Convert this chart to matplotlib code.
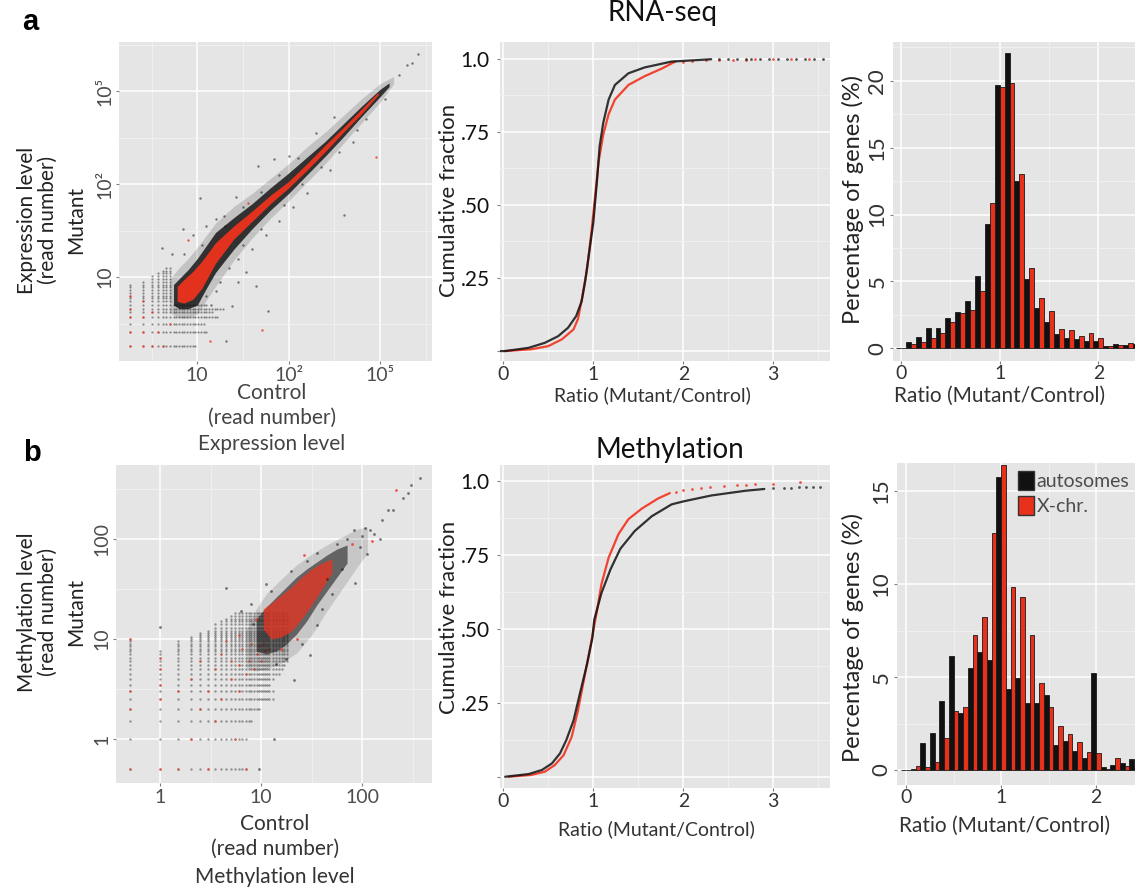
import matplotlib.pyplot as plt
import numpy as np
from matplotlib.patches import Patch
from matplotlib.ticker import FixedLocator, NullFormatter

plt.rcParams['font.family'] = ['Lato', 'DejaVu Sans']

W, H = 1135, 888
BLACK = '#111111'
RED = '#F2311C'
BAR_RED = '#E8301A'

# ---------------- data ----------------
# (a) RNA-seq scatter, log10 read numbers
LAT_A = [0.26, 0.41, 0.50, 0.57, 0.62, 0.66, 0.70, 0.74, 0.77, 0.80, 0.83, 0.86,
         0.89, 0.92, 0.95, 0.98, 1.01, 1.04, 1.07, 1.10, 1.13, 1.16, 1.19, 1.22, 1.25, 1.28]
ROWS_A_Y = [0.26, 0.41, 0.50, 0.57, 0.62, 0.66, 0.70]
ROWS_A_XMAX = [0.99, 1.10, 1.08, 1.22, 1.16, 1.28, 1.10]
COLS_A_X = [0.26, 0.41, 0.50, 0.57, 0.62, 0.66, 0.70]
COLS_A_YMAX = [0.93, 0.97, 1.02, 1.05, 1.08, 1.10, 1.10]
RED_LAT_A = [(0.26, 0.26), (0.41, 0.26), (0.50, 0.26), (0.26, 0.41), (0.41, 0.41),
             (0.26, 0.57), (0.41, 0.57), (0.26, 0.66), (0.57, 0.41), (0.62, 0.26),
             (0.50, 0.62), (0.70, 0.50), (0.41, 0.74), (0.26, 0.80)]

HALO_A_X = [0.70, 0.80, 0.90, 1.00, 1.20, 1.40, 1.60, 1.80, 2.00, 2.20, 2.40, 2.60, 2.80, 3.00, 3.15]
HALO_A_LO = [0.62, 0.56, 0.56, 0.60, 0.90, 1.18, 1.42, 1.63, 1.82, 2.02, 2.22, 2.44, 2.66, 2.88, 3.08]
HALO_A_HI = [0.98, 1.10, 1.20, 1.32, 1.58, 1.76, 1.90, 2.06, 2.22, 2.40, 2.56, 2.74, 2.92, 3.08, 3.16]
CORE_A_X = [0.74, 0.80, 0.90, 1.00, 1.10, 1.20, 1.40, 1.60, 1.80, 2.00, 2.20, 2.40, 2.60, 2.80, 3.00, 3.10]
CORE_A_LO = [0.70, 0.66, 0.66, 0.70, 0.88, 1.05, 1.30, 1.52, 1.72, 1.90, 2.10, 2.30, 2.51, 2.73, 2.94, 3.05]
CORE_A_HI = [0.92, 0.98, 1.08, 1.20, 1.34, 1.48, 1.64, 1.79, 1.96, 2.12, 2.29, 2.46, 2.65, 2.84, 3.02, 3.09]
RED_A_X = [0.78, 0.85, 0.95, 1.05, 1.20, 1.40, 1.60, 1.80, 2.00, 2.20, 2.40, 2.60, 2.80, 2.98]
RED_A_LO = [0.74, 0.72, 0.76, 0.88, 1.15, 1.41, 1.60, 1.79, 1.96, 2.15, 2.35, 2.56, 2.76, 2.96]
RED_A_HI = [0.90, 0.97, 1.06, 1.17, 1.37, 1.55, 1.71, 1.88, 2.03, 2.22, 2.42, 2.61, 2.81, 2.99]
OUT_A = [(0.61, 1.31), (0.72, 1.25), (0.84, 1.52), (1.03, 1.85), (1.20, 1.62), (1.29, 1.66),
         (1.42, 1.86), (1.67, 2.20), (1.84, 2.27), (2.61, 1.67), (2.20, 1.90), (2.45, 2.15),
         (2.50, 2.72), (1.53, 1.05), (1.64, 0.90), (1.77, 0.63), (1.38, 0.69), (1.31, 0.31),
         (1.25, 0.95), (1.45, 1.20), (1.90, 1.60), (2.00, 2.30), (1.10, 1.55), (3.21, 3.17),
         (3.30, 3.28), (3.42, 3.40), (3.35, 3.30), (2.30, 2.55), (1.60, 1.30), (1.15, 0.70),
         (0.95, 1.45), (1.75, 1.45), (2.05, 1.75), (2.70, 2.45), (2.85, 2.70), (3.05, 2.92),
         (1.35, 1.10), (1.50, 1.35), (1.70, 1.52), (1.95, 1.78), (2.15, 2.00), (2.35, 2.18),
         (1.30, 1.55), (1.50, 1.75), (1.70, 1.92), (1.90, 2.10), (2.10, 2.28), (1.10, 0.80),
         (1.20, 0.85), (1.05, 1.35), (0.85, 1.25), (1.45, 0.95), (2.55, 2.35), (2.75, 2.58)]
OUT_A_RED = [(1.71, 0.43), (1.14, 0.31), (2.96, 2.29), (0.90, 1.40), (1.55, 1.80)]

# (b) Methylation scatter, read numbers
LAT_B = [0.5, 1, 1.5, 2, 2.5, 3, 3.5, 4, 4.5, 5, 5.5, 6, 6.5, 7, 7.5, 8, 8.5, 9, 9.5, 10,
         10.5, 11, 11.5, 12, 13, 14, 15, 16, 17, 18]
COLMAX_B = [10, 7.5, 9.5, 10.5, 11.5, 12.5, 14, 15, 16, 17, 18, 18, 18, 18, 18, 18, 18, 18,
            18, 18, 18, 18, 18, 18, 18, 18, 18, 18, 18, 18]
ROWMAX_B = [7, 7, 8, 9.5, 13, 13.5, 12, 13, 15, 16, 17, 18, 18, 18, 18, 18, 18, 18, 18, 18,
            18, 18, 18, 18, 18, 18, 18, 18, 18, 18]
RED_LAT_B = [(0.5, 0.5), (1, 0.5), (1.5, 0.5), (0.5, 2), (0.5, 3), (1, 2.5), (1, 3.5), (1, 5),
             (1, 6.5), (0.5, 10), (1.5, 3), (2, 1), (2, 4), (2.5, 2), (2.5, 6), (3, 0.5),
             (3, 3), (3.5, 1.5), (3.5, 5), (4, 2.5), (4, 7), (5, 4), (5, 6), (5.5, 1), (6, 3),
             (6, 5.5), (6.5, 8), (7, 0.5), (7, 4.5), (7.5, 6), (8, 9), (8.5, 5), (9, 7),
             (9.5, 8.5), (10, 6), (10.5, 9), (11, 7.5), (12, 8), (4.5, 9.5), (6, 11)]
HALO_B_X = [0.85, 0.95, 1.05, 1.20, 1.35, 1.50, 1.65, 1.80, 1.95, 2.05]
HALO_B_LO = [0.72, 0.68, 0.70, 0.76, 0.86, 1.04, 1.28, 1.50, 1.72, 1.86]
HALO_B_HI = [1.08, 1.30, 1.45, 1.60, 1.74, 1.85, 1.94, 2.02, 2.10, 2.12]
CORE_B_X = [0.95, 1.05, 1.15, 1.25, 1.35, 1.45, 1.55, 1.65, 1.75, 1.85]
CORE_B_LO = [0.88, 0.85, 0.88, 0.95, 1.05, 1.18, 1.34, 1.48, 1.62, 1.76]
CORE_B_HI = [1.20, 1.32, 1.42, 1.52, 1.62, 1.70, 1.77, 1.84, 1.90, 1.94]
RED_B_X = [1.02, 1.10, 1.20, 1.30, 1.40, 1.50, 1.60, 1.70]
RED_B_LO = [1.10, 1.00, 1.02, 1.08, 1.20, 1.34, 1.50, 1.66]
RED_B_HI = [1.30, 1.36, 1.44, 1.52, 1.62, 1.70, 1.76, 1.80]
OUT_B = [(2.57, 2.61), (2.48, 2.54), (2.45, 2.46), (2.40, 2.41), (2.30, 2.29), (2.25, 2.29),
         (2.20, 2.19), (2.18, 2.00), (2.08, 2.09), (2.03, 2.11), (2.00, 2.03), (1.93, 1.56),
         (1.55, 1.14), (1.48, 0.84), (1.32, 0.59), (1.13, 0.0), (0.98, -0.3), (0.65, 1.51),
         (0.0, 1.12), (1.55, 1.86), (1.92, 2.09), (2.12, 2.05), (1.98, 1.92), (1.85, 2.00),
         (0.90, 1.35), (0.80, 1.28), (1.05, 1.55), (1.60, 1.30), (1.70, 1.45), (2.05, 1.85),
         (1.40, 0.95), (1.25, 0.80), (1.10, 1.48), (1.30, 1.68), (1.45, 1.78), (1.65, 1.60),
         (1.80, 1.70), (1.75, 1.95), (1.15, 0.75), (0.92, 1.15)]
OUT_B_RED = [(2.33, 2.49), (1.42, 1.84), (2.10, 1.98), (1.90, 1.95), (0.95, 1.20),
             (1.20, 0.90), (1.35, 1.00), (1.60, 1.62)]

# ECDF curves (ratio, cumulative fraction)
A2_BLACK_X = [-0.03, 0.02, 0.28, 0.46, 0.61, 0.72, 0.81, 0.87, 0.91, 0.96, 1.00, 1.04, 1.07,
              1.11, 1.17, 1.24, 1.39, 1.57, 1.87, 2.31]
A2_BLACK_Y = [0.0, 0.0, 0.011, 0.028, 0.051, 0.08, 0.12, 0.17, 0.24, 0.35, 0.44, 0.58, 0.70,
              0.78, 0.86, 0.91, 0.95, 0.97, 0.99, 0.998]
A2_BLACK_TAIL_X = [2.4, 2.5, 2.6, 2.7, 2.75, 2.85, 2.95, 3.05, 3.15, 3.25, 3.35, 3.45, 3.55]
A2_BLACK_TAIL_Y = [0.999, 0.999, 1.0, 1.0, 1.0, 1.0, 1.0, 1.0, 1.0, 1.0, 1.0, 1.0, 1.0]
A2_RED_X = [0.02, 0.31, 0.50, 0.65, 0.78, 0.83, 0.88, 0.93, 0.98, 1.02, 1.06, 1.11, 1.17,
            1.24, 1.39, 1.57, 1.76, 1.91]
A2_RED_Y = [0.0, 0.006, 0.017, 0.04, 0.074, 0.11, 0.19, 0.28, 0.41, 0.53, 0.65, 0.74, 0.81,
            0.86, 0.91, 0.94, 0.966, 0.99]
A2_RED_TAIL_X = [2.0, 2.1, 2.25, 2.4, 2.55, 2.7, 2.8, 3.0, 3.2, 3.4]
A2_RED_TAIL_Y = [0.99, 0.992, 0.994, 0.995, 0.996, 0.997, 0.998, 0.999, 1.0, 1.0]

B2_BLACK_X = [0.02, 0.28, 0.43, 0.54, 0.63, 0.70, 0.78, 0.85, 0.93, 0.99, 1.01, 1.09, 1.19,
              1.30, 1.46, 1.65, 1.87, 2.0, 2.31, 2.69, 2.90]
B2_BLACK_Y = [0.0, 0.009, 0.023, 0.045, 0.079, 0.124, 0.19, 0.28, 0.38, 0.47, 0.53, 0.62,
              0.70, 0.77, 0.83, 0.88, 0.92, 0.93, 0.95, 0.966, 0.972]
B2_BLACK_TAIL_X = [3.0, 3.12, 3.2, 3.28, 3.36, 3.44, 3.52]
B2_BLACK_TAIL_Y = [0.974, 0.976, 0.977, 0.978, 0.979, 0.98, 0.98]
B2_RED_X = [0.06, 0.31, 0.46, 0.57, 0.67, 0.76, 0.83, 0.91, 0.98, 1.04, 1.09, 1.17, 1.28,
            1.39, 1.54, 1.72, 1.85]
B2_RED_Y = [0.0, 0.006, 0.017, 0.039, 0.073, 0.135, 0.225, 0.35, 0.46, 0.56, 0.65, 0.74,
            0.82, 0.87, 0.906, 0.94, 0.958]
B2_RED_TAIL_X = [1.92, 2.0, 2.1, 2.2, 2.3, 2.45, 2.6, 2.7, 2.8, 3.0, 3.3]
B2_RED_TAIL_Y = [0.963, 0.968, 0.973, 0.976, 0.98, 0.983, 0.985, 0.987, 0.988, 0.99, 0.997]

# Histograms (bin centres, % of genes)
BINS = [0.0, 0.1, 0.2, 0.3, 0.4, 0.5, 0.6, 0.7, 0.8, 0.9, 1.0, 1.1, 1.2, 1.3, 1.4, 1.5, 1.6,
        1.7, 1.8, 1.9, 2.0, 2.1, 2.2, 2.3, 2.4]
A3_AUTO = [0, 0.5, 0.87, 1.5, 1.55, 2.3, 2.7, 3.57, 5.4, 9.3, 19.7, 22.1, 12.5, 5.2, 3.04, 2.0,
           1.05, 0.75, 0.7, 0.55, 0.55, 0.2, 0.3, 0.25, 0.3]
A3_X = [0, 0.3, 0.45, 0.75, 1.12, 1.95, 2.67, 2.87, 4.3, 10.85, 19.5, 19.8, 13.0, 6.0, 3.74,
        2.8, 1.45, 1.37, 0.92, 1.12, 0.75, 0.2, 0.25, 0.37, 0.3]
B3_AUTO = [0, 0.05, 1.47, 2.0, 3.73, 6.14, 3.05, 5.48, 6.37, 5.92, 15.8, 4.34, 4.94, 3.6, 3.6,
           4.04, 1.35, 1.56, 1.02, 0.66, 5.2, 0.18, 0.27, 0.36, 0.6]
B3_X = [0.02, 0.2, 0.15, 0.45, 1.7, 3.2, 3.37, 7.27, 8.26, 12.75, 16.4, 9.84, 9.3, 7.27, 4.7,
        3.41, 2.39, 1.94, 1.49, 0.95, 0.9, 0.05, 0.66, 0.2, 0.3]


# ---------------- helpers ----------------
def rect(x0, y0, x1, y1):
    return [x0 / W, 1 - y1 / H, (x1 - x0) / W, (y1 - y0) / H]


def ftext(x, y, s, **kw):
    fig.text(x / W, 1 - y / H, s, ha='center', va='center', **kw)


def gg_style(ax):
    ax.set_facecolor('#E5E5E5')
    for s in ax.spines.values():
        s.set_visible(False)
    ax.grid(True, which='major', color='white', lw=1.1)
    ax.grid(True, which='minor', color='#F2F2F2', lw=0.6)
    ax.set_axisbelow(True)
    ax.tick_params(which='major', length=2.5, width=0.8, color='#7F7F7F', pad=1.5)
    ax.tick_params(which='minor', length=0)


def rotate_yticks(ax):
    for lab in ax.get_yticklabels():
        lab.set_rotation(90)
        lab.set_va('center')
        lab.set_ha('right')


def lattice_rows_cols(levels, ry, rxmax, cx, cymax):
    pts = set()
    for y, xm in zip(ry, rxmax):
        for x in levels:
            if x <= xm:
                pts.add((x, y))
    for x, ym in zip(cx, cymax):
        for y in levels:
            if y <= ym:
                pts.add((x, y))
    return np.array(sorted(pts))


def lattice_2d(levels, colmax, rowmax):
    pts = []
    for x, cm in zip(levels, colmax):
        for y, rm in zip(levels, rowmax):
            if y <= cm and x <= rm:
                pts.append((x, y))
    return np.array(pts)


def band(ax, xs, lo, hi, color, alpha):
    ax.fill_between(10 ** np.array(xs), 10 ** np.array(lo), 10 ** np.array(hi),
                    color=color, alpha=alpha, lw=0)


def log_axes(ax, xlim, ylim, ticks, labels, minors):
    ax.set_xscale('log')
    ax.set_yscale('log')
    ax.set_xlim(*xlim)
    ax.set_ylim(*ylim)
    for axis in (ax.xaxis, ax.yaxis):
        axis.set_major_locator(FixedLocator(ticks))
        axis.set_minor_locator(FixedLocator(minors))
        axis.set_minor_formatter(NullFormatter())
    ax.set_xticklabels(labels)
    ax.set_yticklabels(labels)
    ax.tick_params(labelsize=14, labelcolor='#4D4D4D')
    rotate_yticks(ax)


fig = plt.figure(figsize=(W / 100, H / 100), dpi=100)

# ---------------- a1: RNA-seq scatter ----------------
ax = fig.add_axes(rect(119, 42, 432, 361))
gg_style(ax)
lat = lattice_rows_cols(LAT_A, ROWS_A_Y, ROWS_A_XMAX, COLS_A_X, COLS_A_YMAX)
ax.scatter(10 ** lat[:, 0], 10 ** lat[:, 1], s=2.5, color=BLACK, alpha=0.45, lw=0)
rl = np.array(RED_LAT_A)
ax.scatter(10 ** rl[:, 0], 10 ** rl[:, 1], s=3, color=RED, alpha=0.7, lw=0)
band(ax, HALO_A_X, HALO_A_LO, HALO_A_HI, BLACK, 0.16)
band(ax, CORE_A_X, CORE_A_LO, CORE_A_HI, BLACK, 0.82)
band(ax, RED_A_X, RED_A_LO, RED_A_HI, RED, 0.92)
oa = np.array(OUT_A)
ax.scatter(10 ** oa[:, 0], 10 ** oa[:, 1], s=3, color=BLACK, alpha=0.55, lw=0)
oar = np.array(OUT_A_RED)
ax.scatter(10 ** oar[:, 0], 10 ** oar[:, 1], s=3, color=RED, alpha=0.8, lw=0)
log_axes(ax, (10 ** 0.143, 10 ** 3.57), (10 ** 0.097, 10 ** 3.53),
         [10, 100, 1000], ['10', '10²', '10⁵'],
         [10 ** 0.5, 10 ** 1.5, 10 ** 2.5, 10 ** 3.5])

# ---------------- b1: methylation scatter ----------------
ax = fig.add_axes(rect(116, 465, 432, 783))
gg_style(ax)
lat = lattice_2d(LAT_B, COLMAX_B, ROWMAX_B)
ax.scatter(lat[:, 0], lat[:, 1], s=3, color=BLACK, alpha=0.4, lw=0)
rl = np.array(RED_LAT_B)
ax.scatter(rl[:, 0], rl[:, 1], s=3.5, color=RED, alpha=0.6, lw=0)
band(ax, HALO_B_X, HALO_B_LO, HALO_B_HI, BLACK, 0.14)
band(ax, CORE_B_X, CORE_B_LO, CORE_B_HI, BLACK, 0.55)
band(ax, RED_B_X, RED_B_LO, RED_B_HI, RED, 0.7)
ob = np.array(OUT_B)
ax.scatter(10 ** ob[:, 0], 10 ** ob[:, 1], s=4, color=BLACK, alpha=0.55, lw=0)
obr = np.array(OUT_B_RED)
ax.scatter(10 ** obr[:, 0], 10 ** obr[:, 1], s=4, color=RED, alpha=0.8, lw=0)
log_axes(ax, (10 ** -0.436, 10 ** 2.69), (10 ** -0.44, 10 ** 2.74),
         [1, 10, 100], ['1', '10', '100'],
         [10 ** -0.5, 10 ** 0.5, 10 ** 1.5, 10 ** 2.5])


# ---------------- ECDF panels ----------------
def ecdf_panel(box, ylim, bx, by, btx, bty, rx, ry, rtx, rty):
    ax = fig.add_axes(rect(*box))
    gg_style(ax)
    ax.plot(rx, ry, color=RED, lw=1.6, alpha=0.9, solid_capstyle='round')
    ax.plot(bx, by, color=BLACK, lw=1.6, alpha=0.85, solid_capstyle='round')
    ax.scatter(rtx, rty, s=4, color=RED, alpha=0.8, lw=0)
    ax.scatter(btx, bty, s=4, color=BLACK, alpha=0.7, lw=0)
    ax.set_xlim(-0.037, 3.63)
    ax.set_ylim(*ylim)
    ax.xaxis.set_major_locator(FixedLocator([0, 1, 2, 3]))
    ax.xaxis.set_minor_locator(FixedLocator([0.5, 1.5, 2.5, 3.5]))
    ax.yaxis.set_major_locator(FixedLocator([0, 0.25, 0.5, 0.75, 1.0]))
    ax.yaxis.set_minor_locator(FixedLocator([0.125, 0.375, 0.625, 0.875]))
    ax.set_yticklabels(['', '.25', '.50', '.75', '1.0'])
    ax.tick_params(axis='y', labelsize=15, labelcolor='#111111', pad=5)
    ax.tick_params(axis='x', labelsize=14, labelcolor='#333333', pad=1)
    return ax


ecdf_panel((500, 42, 830, 361), (-0.034, 1.057),
           A2_BLACK_X, A2_BLACK_Y, A2_BLACK_TAIL_X, A2_BLACK_TAIL_Y,
           A2_RED_X, A2_RED_Y, A2_RED_TAIL_X, A2_RED_TAIL_Y)
ecdf_panel((500, 465, 830, 788), (-0.038, 1.053),
           B2_BLACK_X, B2_BLACK_Y, B2_BLACK_TAIL_X, B2_BLACK_TAIL_Y,
           B2_RED_X, B2_RED_Y, B2_RED_TAIL_X, B2_RED_TAIL_Y)


# ---------------- histograms ----------------
def hist_panel(box, xlim, ylim, yticks, yminor, auto, xchr):
    ax = fig.add_axes(rect(*box))
    gg_style(ax)
    c = np.array(BINS)
    ax.bar(c - 0.025, auto, width=0.05, color=BLACK, edgecolor='#1a1a1a', lw=0.6)
    ax.bar(c + 0.025, xchr, width=0.05, color=BAR_RED, edgecolor='#1a1a1a', lw=0.6)
    ax.set_xlim(*xlim)
    ax.set_ylim(*ylim)
    ax.xaxis.set_major_locator(FixedLocator([0, 1, 2]))
    ax.xaxis.set_minor_locator(FixedLocator([0.5, 1.5]))
    ax.yaxis.set_major_locator(FixedLocator(yticks))
    ax.yaxis.set_minor_locator(FixedLocator(yminor))
    ax.tick_params(axis='y', labelsize=16, labelcolor='#333333')
    ax.tick_params(axis='x', labelsize=14, labelcolor='#333333', pad=0.5)
    rotate_yticks(ax)
    return ax


hist_panel((893, 42, 1135, 361), (-0.081, 2.371), (-0.95, 22.9),
           [0, 5, 10, 15, 20], [2.5, 7.5, 12.5, 17.5, 22.5], A3_AUTO, A3_X)
ax = hist_panel((897, 463, 1135, 785), (-0.095, 2.41), (-0.81, 16.53),
                [0, 5, 10, 15], [2.5, 7.5, 12.5], B3_AUTO, B3_X)
handles = [Patch(facecolor=BLACK, edgecolor='#333333', label='autosomes'),
           Patch(facecolor=BAR_RED, edgecolor='#333333', label='X-chr.')]
ax.legend(handles=handles, loc='upper left', bbox_to_anchor=(0.46, 1.01), frameon=False,
          fontsize=14, labelcolor='#4D4D4D', handlelength=0.8, handleheight=1.1,
          handletextpad=0.15, labelspacing=0.3, borderaxespad=0.2)

# ---------------- text ----------------
ftext(30, 22, 'a', fontsize=21, fontweight='bold', family=['Liberation Sans', 'DejaVu Sans'])
ftext(32, 453, 'b', fontsize=21, fontweight='bold', family=['Liberation Sans', 'DejaVu Sans'])
ftext(663, 13, 'RNA-seq', fontsize=20, color='#111111')
ftext(670, 450, 'Methylation', fontsize=20, color='#111111')

for x, s in zip([27, 48, 76], ['Expression level', '(read number)', 'Mutant']):
    ftext(x, 220, s, fontsize=15, rotation=90, color='#222222')
for y, s in zip([393, 418, 444], ['Control', '(read number)', 'Expression level']):
    ftext(272, y, s, fontsize=15, color='#444444')
for x, s in zip([27, 48, 76], ['Methylation level', '(read number)', 'Mutant']):
    ftext(x, 612, s, fontsize=15, rotation=90, color='#222222')
for y, s in zip([824, 849, 877], ['Control', '(read number)', 'Methylation level']):
    ftext(275, y, s, fontsize=15, color='#333333')

ftext(449, 200, 'Cumulative fraction', fontsize=16, rotation=90, color='#222222')
ftext(449, 617, 'Cumulative fraction', fontsize=16, rotation=90, color='#222222')
ftext(652, 395, 'Ratio (Mutant/Control)', fontsize=14, color='#333333')
ftext(656, 829, 'Ratio (Mutant/Control)', fontsize=14, color='#333333')
ftext(853, 200, 'Percentage of genes (%)', fontsize=17, rotation=90, color='#222222')
ftext(853, 637, 'Percentage of genes (%)', fontsize=17, rotation=90, color='#222222')
ftext(1000, 396, 'Ratio (Mutant/Control)', fontsize=15, color='#333333')
ftext(1005, 826, 'Ratio (Mutant/Control)', fontsize=15, color='#333333')

fig.savefig('out.png', dpi=100)
